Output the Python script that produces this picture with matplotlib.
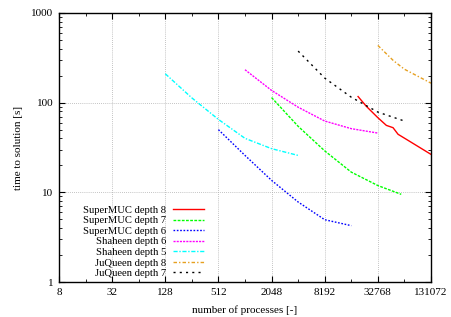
import matplotlib
matplotlib.use("Agg")
import matplotlib.pyplot as plt
import matplotlib.ticker as mticker
import numpy as np

plt.rcParams['font.family'] = ['Liberation Serif', 'DejaVu Serif']

# data
smuc8_p = [19560, 24280, 32768, 40900, 48700, 55500, 72000, 131072]
smuc8_t = [117, 91, 68, 55.8, 52.6, 44.4, 38, 26.5]
smuc7_p = [2048, 4096, 8192, 16384, 32768, 60300]
smuc7_t = [114, 54.5, 29, 16.8, 11.9, 9.5]
smuc6_p = [512, 1024, 2048, 4096, 8192, 16384]
smuc6_t = [50, 25.8, 13.6, 7.8, 4.95, 4.25]
sh6_p = [1024, 2048, 4096, 8192, 16384, 32768]
sh6_t = [233, 137, 89, 62.4, 51.3, 45.8]
sh5_p = [128, 256, 512, 1024, 2048, 4096]
sh5_t = [210, 113, 65, 40, 30.7, 25.8]
jq8_p = [32768, 49000, 65536, 131072]
jq8_t = [435, 295, 236, 165]
jq7_p = [4096, 8192, 16384, 32768, 65536]
jq7_t = [376, 188, 115, 78.5, 62.4]

labels = ["SuperMUC depth 8", "SuperMUC depth 7", "SuperMUC depth 6",
          "Shaheen depth 6", "Shaheen depth 5", "JuQueen depth 8", "JuQueen depth 7"]
xticks = [8, 32, 128, 512, 2048, 8192, 32768, 131072]

fig = plt.figure(figsize=(4.52, 3.17), dpi=100)
ax = fig.add_axes([59/452, 35/317, 372/452, 269/317])

series = [
    (smuc8_p, smuc8_t, '#ff0000', '-'),
    (smuc7_p, smuc7_t, '#00ff00', (0, (2.0, 1.0))),
    (smuc6_p, smuc6_t, '#0000ff', (0, (1.2, 1.2))),
    (sh6_p, sh6_t, '#ff00ff', (0, (1.5, 0.8))),
    (sh5_p, sh5_t, '#00ffff', (0, (3.0, 1.2, 1.0, 1.2))),
    (jq8_p, jq8_t, '#e6a020', (0, (2.5, 1.5, 1.0, 1.5))),
    (jq7_p, jq7_t, '#000000', (0, (1.5, 3.0))),
]
for (p, t, c, ls), lab in zip(series, labels):
    ax.plot(p, t, color=c, linestyle=ls, linewidth=1.0, label=lab)

ax.set_xscale('log', base=2)
ax.set_yscale('log')
ax.set_xlim(8, 131072)
ax.set_ylim(1, 1000)
ax.xaxis.set_major_locator(mticker.FixedLocator(xticks))
ax.xaxis.set_major_formatter(mticker.FixedFormatter([str(v) for v in xticks]))
ax.xaxis.set_minor_locator(mticker.FixedLocator([16, 64, 256, 1024, 4096, 16384, 65536]))
ax.xaxis.set_minor_formatter(mticker.NullFormatter())
ax.yaxis.set_major_locator(mticker.FixedLocator([1, 10, 100, 1000]))
ax.yaxis.set_major_formatter(mticker.FixedFormatter(['1', '10', '100', '1000']))
ax.yaxis.set_minor_locator(mticker.LogLocator(base=10, subs=np.arange(2, 10)))
ax.yaxis.set_minor_formatter(mticker.NullFormatter())

ax.tick_params(which='both', direction='in', top=True, right=True, labelsize=8, pad=4)
ax.tick_params(which='major', length=4, width=0.8)
ax.tick_params(which='minor', length=2, width=0.6)
ax.grid(True, which='major', color='#b0b0b0', linestyle=(0, (1, 1.5)), linewidth=0.6)
for s in ax.spines.values():
    s.set_linewidth(1.0)

ax.set_xlabel('number of processes [-]', fontsize=8, labelpad=6)
ax.set_ylabel('time to solution [s]', fontsize=8, labelpad=6)

leg = ax.legend(loc='lower right', bbox_to_anchor=(150/372, -1.5/269), frameon=False,
                fontsize=7.7, markerfirst=False, handlelength=2.9, handletextpad=0.6,
                labelspacing=0.1, borderpad=0.3, borderaxespad=0.2)

fig.savefig('out.png', dpi=100)
